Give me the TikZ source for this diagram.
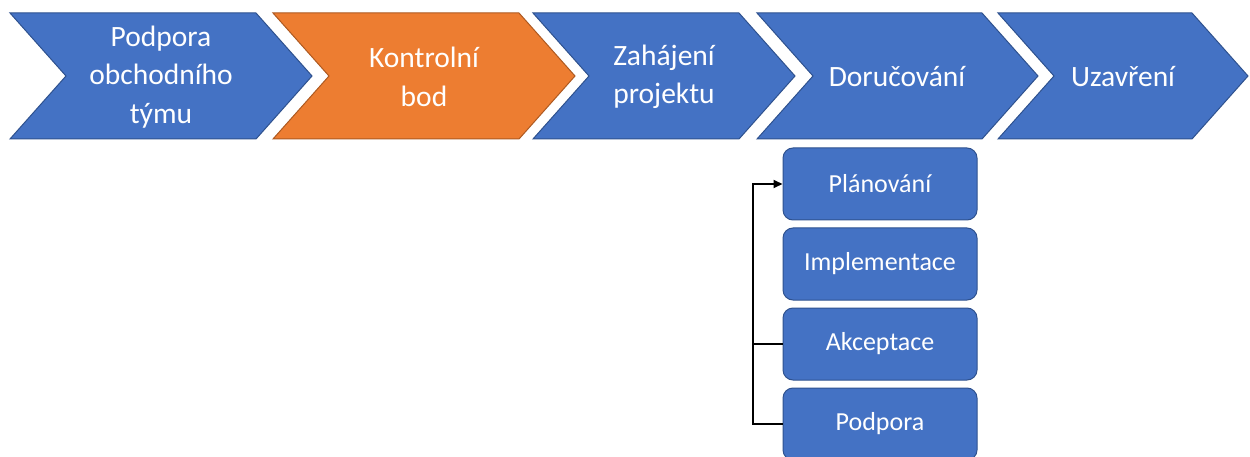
\documentclass[tikz,border=0pt]{standalone}
\usepackage{fontspec}
\setmainfont{Carlito}
\usetikzlibrary{arrows.meta}
\definecolor{ofblue}{HTML}{4472C4}
\definecolor{ofblueline}{HTML}{2F528F}
\definecolor{oforange}{HTML}{ED7D31}
\definecolor{oforangeline}{HTML}{AE5A21}
% chevron outline: left x, tip x, style
\newcommand\chevronpath[3]{%
  \path[#3] (#1,13) -- (#2-56,13) -- (#2,76) -- (#2-56,139) -- (#1,139) -- (#1+56,76) -- cycle;}
\begin{document}
\begin{tikzpicture}[x=1pt,y=-1pt,
  bluechev/.style={fill=ofblue, draw=ofblueline, line width=1pt, line join=miter},
  orangechev/.style={fill=oforange, draw=oforangeline, line width=1pt, line join=miter},
  chevlabel/.style={text=white, align=center, inner sep=0pt, font=\fontsize{29.5}{38.5}\selectfont},
  stepbox/.style={rectangle, rounded corners=10pt, fill=ofblue, draw=ofblueline, line width=1pt,
    minimum width=194pt, minimum height=72pt, text=white, inner sep=0pt,
    font=\fontsize{26}{31}\selectfont},
  flow/.style={line width=2pt, black}]
\clip (0,0) rectangle (1250,457);
\fill[white] (0,0) rectangle (1250,457);

% phase chevrons
\chevronpath{10}{312}{bluechev}
\chevronpath{273}{575}{orangechev}
\chevronpath{533}{795}{bluechev}
\chevronpath{757}{1038}{bluechev}
\chevronpath{998}{1248}{bluechev}

\node[chevlabel] (obchod) at (161,77) {Podpora\\obchodního\\týmu};
\node[chevlabel] (kontrola) at (424,77) {Kontrolní\\bod};
\node[chevlabel] (zahajeni) at (664,77) {Zahájení\\projektu};
\node[chevlabel] (doruceni) at (897,77) {Doručování};
\node[chevlabel] (uzavreni) at (1123,77) {Uzavření};

% delivery steps
\node[stepbox] (plan) at (880,184) {Plánování};
\node[stepbox] (impl) at (880,264) {Implementace};
\node[stepbox] (akcept) at (880,344) {Akceptace};
\node[stepbox] (podpora) at (880,424) {Podpora};

% feedback loop
\draw[flow, -{Triangle[length=9pt,width=8pt]}] (podpora.west) -- ++(-30,0) |- (plan.west);
\draw[flow] (akcept.west) -- ++(-30,0);
\end{tikzpicture}
\end{document}
